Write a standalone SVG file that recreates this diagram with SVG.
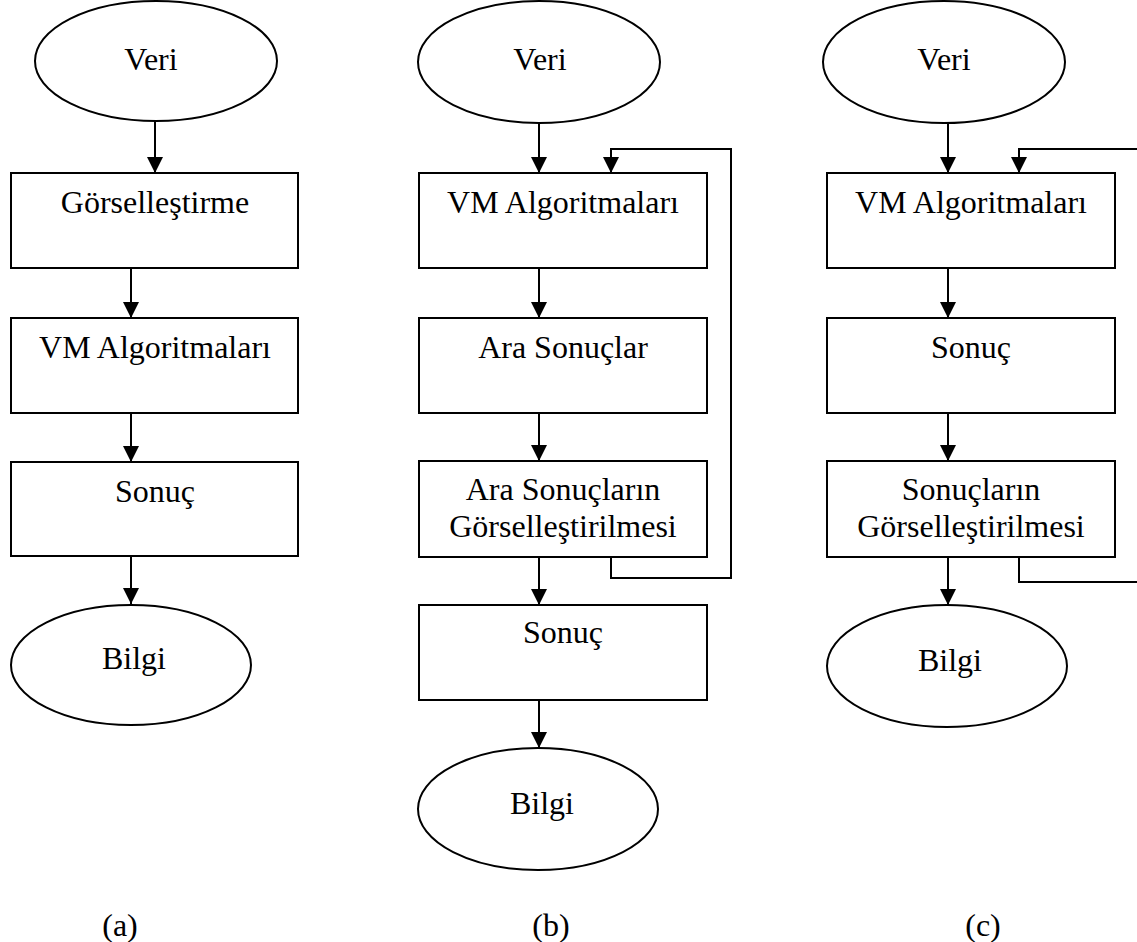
<svg xmlns="http://www.w3.org/2000/svg" width="1137" height="942" viewBox="0 0 1137 942">
<style>
.n{fill:#fff;stroke:#000;stroke-width:2}
.t{font-family:"Liberation Serif","Times New Roman",serif;font-size:32px;fill:#000;text-anchor:middle}
.c{fill:none;stroke:#000;stroke-width:2}
</style>
<defs>
<marker id="ah" markerUnits="userSpaceOnUse" markerWidth="16" markerHeight="16" refX="16" refY="8" orient="auto">
<path d="M0,0 L16,8 L0,16 z" fill="#000"/>
</marker>
</defs>
<rect width="1137" height="942" fill="#fff"/>
<g id="connectors">
<path class="c" d="M155,121 V173" marker-end="url(#ah)"/>
<path class="c" d="M131,268 V318" marker-end="url(#ah)"/>
<path class="c" d="M131,413 V462" marker-end="url(#ah)"/>
<path class="c" d="M131,556 V604" marker-end="url(#ah)"/>
<path class="c" d="M539,123 V173" marker-end="url(#ah)"/>
<path class="c" d="M539,268 V318" marker-end="url(#ah)"/>
<path class="c" d="M539,413 V461" marker-end="url(#ah)"/>
<path class="c" d="M539,557 V605" marker-end="url(#ah)"/>
<path class="c" d="M539,700 V748" marker-end="url(#ah)"/>
<path class="c" d="M611,557 V578 H731 V149 H611 V173" marker-end="url(#ah)"/>
<path class="c" d="M948,123 V173" marker-end="url(#ah)"/>
<path class="c" d="M948,268 V318" marker-end="url(#ah)"/>
<path class="c" d="M948,413 V461" marker-end="url(#ah)"/>
<path class="c" d="M948,557 V605" marker-end="url(#ah)"/>
<path class="c" d="M1019,557 V582 H1140"/>
<path class="c" d="M1140,149 H1019 V173" marker-end="url(#ah)"/>
</g>
<g id="a-veri"><ellipse class="n" cx="156" cy="61" rx="121" ry="60"/><text class="t" x="151" y="70">Veri</text></g>
<g id="a-gorsel"><rect class="n" x="11" y="173" width="287" height="95"/><text class="t" x="155" y="213">Görselleştirme</text></g>
<g id="a-vm"><rect class="n" x="11" y="318" width="287" height="95"/><text class="t" x="155" y="358">VM Algoritmaları</text></g>
<g id="a-sonuc"><rect class="n" x="11" y="462" width="287" height="94"/><text class="t" x="155" y="502">Sonuç</text></g>
<g id="a-bilgi"><ellipse class="n" cx="131" cy="665" rx="120" ry="60"/><text class="t" x="134" y="669">Bilgi</text></g>
<g id="b-veri"><ellipse class="n" cx="539" cy="62" rx="121" ry="61"/><text class="t" x="540" y="70">Veri</text></g>
<g id="b-vm"><rect class="n" x="419" y="173" width="288" height="95"/><text class="t" x="563" y="213">VM Algoritmaları</text></g>
<g id="b-ara"><rect class="n" x="419" y="318" width="288" height="95"/><text class="t" x="563" y="358">Ara Sonuçlar</text></g>
<g id="b-aragorsel"><rect class="n" x="419" y="461" width="288" height="96"/><text class="t" x="563" y="500">Ara Sonuçların</text><text class="t" x="563" y="537">Görselleştirilmesi</text></g>
<g id="b-sonuc"><rect class="n" x="419" y="605" width="288" height="95"/><text class="t" x="563" y="643">Sonuç</text></g>
<g id="b-bilgi"><ellipse class="n" cx="538" cy="809" rx="120" ry="61"/><text class="t" x="542" y="814">Bilgi</text></g>
<g id="c-veri"><ellipse class="n" cx="944" cy="62" rx="121" ry="61"/><text class="t" x="944" y="70">Veri</text></g>
<g id="c-vm"><rect class="n" x="827" y="173" width="288" height="95"/><text class="t" x="971" y="213">VM Algoritmaları</text></g>
<g id="c-sonuc"><rect class="n" x="827" y="318" width="288" height="95"/><text class="t" x="971" y="358">Sonuç</text></g>
<g id="c-gorsel"><rect class="n" x="827" y="461" width="288" height="96"/><text class="t" x="971" y="500">Sonuçların</text><text class="t" x="971" y="537">Görselleştirilmesi</text></g>
<g id="c-bilgi"><ellipse class="n" cx="947" cy="666" rx="120" ry="61"/><text class="t" x="950" y="671">Bilgi</text></g>
<g id="labels">
<text class="t" x="120" y="936">(a)</text>
<text class="t" x="551" y="936">(b)</text>
<text class="t" x="983" y="936">(c)</text>
</g>
</svg>
